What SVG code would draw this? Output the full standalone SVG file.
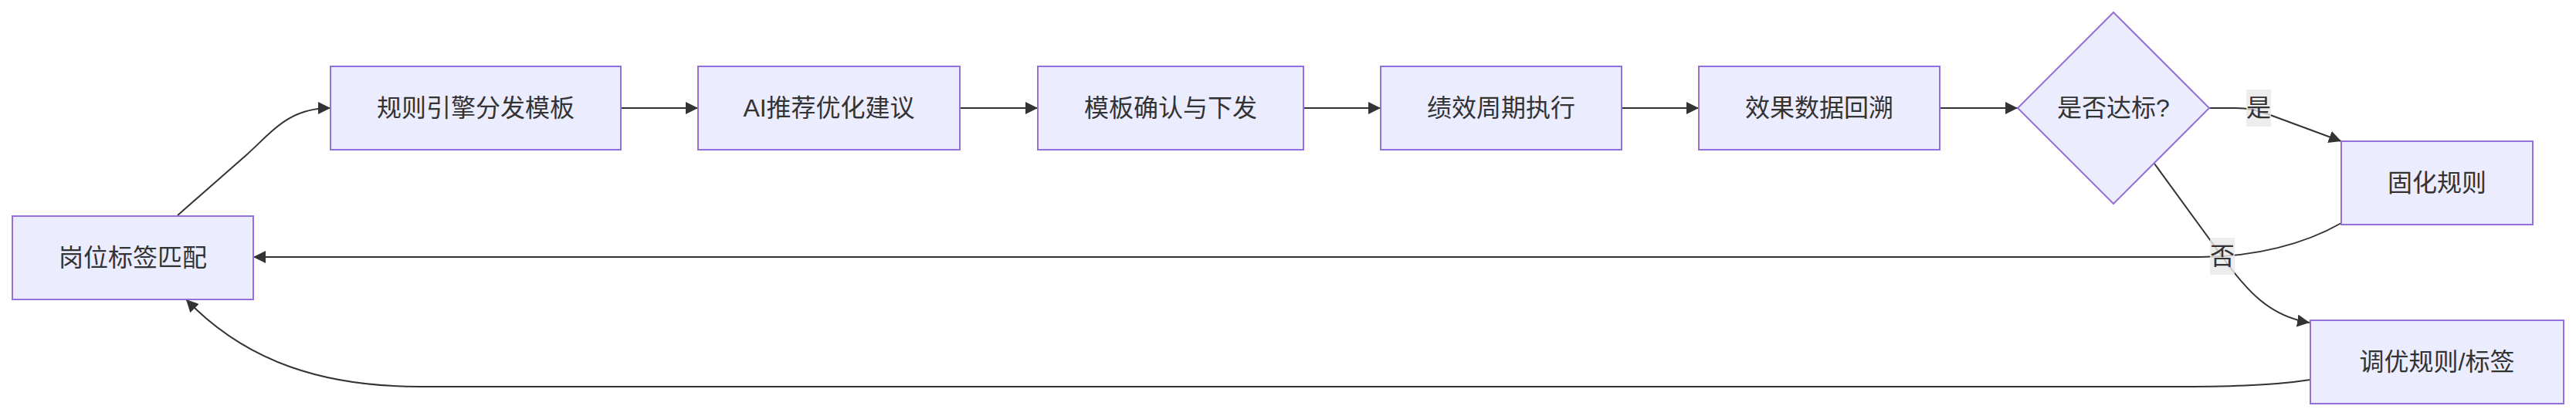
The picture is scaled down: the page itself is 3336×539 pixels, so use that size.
<svg xmlns="http://www.w3.org/2000/svg" width="3336" height="539" viewBox="0 0 3336 539">
<style>
.node rect,.node polygon{fill:#ECECFF;stroke:#9370DB;stroke-width:2}
.node text,.label text{font-family:'Liberation Sans','Noto Sans CJK SC',sans-serif;font-size:32px;fill:#333;text-anchor:middle;dominant-baseline:central}
.edge{fill:none;stroke:#333;stroke-width:2;marker-end:url(#arrow)}
.label rect{fill:#e8e8e8;fill-opacity:0.8}
</style>
<defs>
<marker id="arrow" viewBox="0 0 10 10" refX="10" refY="5" markerUnits="userSpaceOnUse" markerWidth="16" markerHeight="16" orient="auto">
<path d="M0,0 L10,5 L0,10 z" fill="#333"/>
</marker>
</defs>
<rect width="3336" height="539" fill="#fff"/>
<g id="connectors">
<path class="edge" d="M230,279 L320,200 C355,168 375,140 428,140"/>
<path class="edge" d="M804,140 L904,140"/>
<path class="edge" d="M1243,140 L1344,140"/>
<path class="edge" d="M1688,140 L1788,140"/>
<path class="edge" d="M2100,140 L2200,140"/>
<path class="edge" d="M2512,140 L2613,140"/>
<path class="edge" d="M2861,140 L2895,140 C2910,140 2925,143 2940,149 L3032,183"/>
<path class="edge" d="M2790,212 L2876,330 C2910,378 2940,410 2991,418"/>
<path class="edge" d="M3032,289 C2985,316 2920,333 2850,333 L328,333"/>
<path class="edge" d="M2992,492 C2940,500 2880,501 2810,501 L545,501 C420,501 320,470 241,388"/>
</g>
<g id="edge-labels">
<g class="label" id="label-yes"><rect x="2909" y="116" width="32" height="48"/><text x="2925" y="140">是</text></g>
<g class="label" id="label-no"><rect x="2862" y="308" width="32" height="48"/><text x="2878" y="332">否</text></g>
</g>
<g class="node" id="n-match"><rect x="16" y="280" width="312" height="108"/><text x="172" y="334">岗位标签匹配</text></g>
<g class="node" id="n-engine"><rect x="428" y="86" width="376" height="108"/><text x="616" y="140">规则引擎分发模板</text></g>
<g class="node" id="n-ai"><rect x="904" y="86" width="339" height="108"/><text x="1073.5" y="140">AI推荐优化建议</text></g>
<g class="node" id="n-confirm"><rect x="1344" y="86" width="344" height="108"/><text x="1516" y="140">模板确认与下发</text></g>
<g class="node" id="n-exec"><rect x="1788" y="86" width="312" height="108"/><text x="1944" y="140">绩效周期执行</text></g>
<g class="node" id="n-data"><rect x="2200" y="86" width="312" height="108"/><text x="2356" y="140">效果数据回溯</text></g>
<g class="node" id="n-decision"><polygon points="2737,16 2861,140 2737,264 2613,140"/><text x="2737" y="140">是否达标?</text></g>
<g class="node" id="n-fix"><rect x="3032" y="183" width="248" height="108"/><text x="3156" y="237">固化规则</text></g>
<g class="node" id="n-tune"><rect x="2992" y="415" width="328" height="108"/><text x="3156" y="469">调优规则/标签</text></g>
</svg>
